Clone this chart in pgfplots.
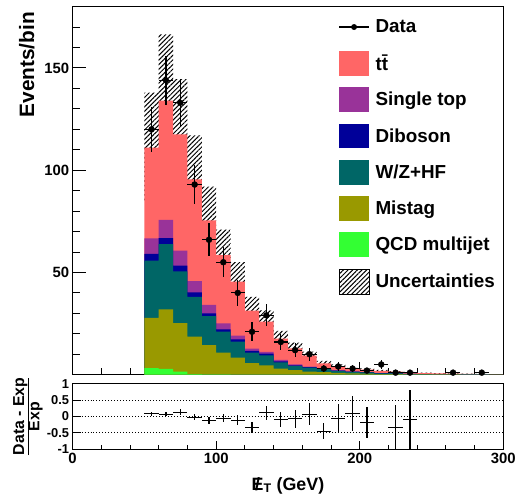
\documentclass[border=0pt]{standalone}
\usepackage{fontspec}
\setmainfont{Liberation Sans}
\usepackage{pgfplots}
\pgfplotsset{compat=1.18}
\usepackage{pgfplotstable}
\usepgfplotslibrary{fillbetween}
\usetikzlibrary{patterns.meta}

\definecolor{cTT}{RGB}{255,102,102}
\definecolor{cST}{RGB}{153,51,153}
\definecolor{cDB}{RGB}{0,0,153}
\definecolor{cWZ}{RGB}{0,102,102}
\definecolor{cMT}{RGB}{153,153,0}
\definecolor{cQCD}{RGB}{51,255,51}

% predicted yields per 10 GeV bin (left edge), components + uncertainty band
\pgfplotstableread{
x   qcd  mis   wz    dib   st    tt    lo     hi
50  3.2  24.6  28.0  3.3   7.6   44.3  84.5   138.0
60  2.8  29.2  31.9  2.9   8.9   58.3  102.5  166.5
70  1.5  23.7  25.3  2.9   7.3   56.8  90.5   144.5
80  0.3  18.3  19.4  2.3   5.5   49.7  74.0   117.0
90  0.2  14.2  14.2  1.4   4.2   41.3  59.5   92.0
100 0.1  10.7  10.2  1.2   2.9   33.4  46.0   71.0
110 0.0  8.4   7.8   1.1   1.8   26.4  36.0   55.0
120 0.0  5.7   5.1   0.8   1.1   18.6  24.5   38.0
130 0.0  4.6   4.9   0.8   0.8   14.9  20.5   31.5
140 0.0  3.0   3.0   0.5   0.7   10.4  13.8   21.4
150 0.0  2.2   2.1   0.3   0.4   7.9   10.1   15.7
160 0.0  1.5   2.0   0.2   0.3   5.3   7.3    11.3
170 0.0  1.2   1.5   0.2   0.2   2.4   4.3    6.7
180 0.0  0.9   1.0   0.1   0.2   2.0   3.3    5.1
190 0.0  0.6   0.8   0.1   0.1   1.1   2.1    3.3
200 0.0  0.5   0.6   0.1   0.1   1.2   1.9    3.1
210 0.0  0.3   0.4   0.05  0.05  1.1   1.5    2.3
220 0.0  0.3   0.3   0.05  0.05  0.8   1.2    1.8
230 0.0  0.2   0.2   0.0   0.0   0.7   0.85   1.35
240 0.0  0.15  0.15  0.0   0.0   0.5   0.6    1.0
250 0.0  0.1   0.1   0.0   0.0   0.4   0.45   0.75
260 0.0  0.1   0.1   0.0   0.0   0.3   0.4    0.6
270 0.0  0.05  0.05  0.0   0.0   0.3   0.3    0.5
280 0.0  0.05  0.05  0.0   0.0   0.2   0.2    0.4
290 0.0  0.0   0.0   0.0   0.0   0.2   0.15   0.25
300 0.0  0.0   0.0   0.0   0.0   0.2   0.15   0.25
}\mc

\pgfplotstableread{
x   y    ex  ey
55  120  5   11.0
65  144  5   12.0
75  133  5   11.5
85  93   5   9.6
95  66   5   8.1
105 55   5   7.4
115 40   5   6.3
125 21   5   4.6
135 29   5   5.4
145 16   5   4.0
155 12   5   3.5
165 10   5   3.2
175 3    5   1.7
185 4    5   2.0
195 3    5   1.7
205 2    5   1.4
215 5    5   2.2
225 1    5   1.0
235 1    5   1.0
265 1    5   1.0
285 1    5   1.0
}\dat

\pgfplotstableread{
x   r      ex  er
55  0.08   5   0.06
65  0.07   5   0.07
75  0.13   5   0.09
85  -0.02  5   0.10
95  -0.12  5   0.11
105 -0.06  5   0.12
115 -0.12  5   0.15
125 -0.33  5   0.16
135 0.11   5   0.21
145 -0.09  5   0.23
155 -0.07  5   0.27
165 0.07   5   0.33
175 -0.45  5   0.25
185 -0.05  5   0.43
195 0.10   5   0.53
205 -0.19  5   0.48
225 -0.33  5   0.67
235 -0.09  5   0.90
}\rat

\pgfplotsset{
  boxleg/.style={legend image code/.code={
    \path[draw=none,fill=none] (0bp,-12.5bp) rectangle (30bp,12.5bp);
    \path[fill=#1,draw=none] (0bp,-12.5bp) rectangle (30bp,12.5bp);}},
  hatchleg/.style={legend image code/.code={
    \path[draw=none,fill=none] (0bp,-12.5bp) rectangle (30bp,12.5bp);
    \path[pattern={Lines[angle=45,distance=3.3bp,line width=1bp]}, pattern color=black, draw=none] (0bp,-12.5bp) rectangle (30bp,12.5bp);
    \draw[black,line width=0.8bp,fill=none] (0bp,-12.5bp) rectangle (30bp,12.5bp);}},
  dataleg/.style={legend image code/.code={
    \path[draw=none,fill=none] (0bp,-12.5bp) rectangle (30bp,12.5bp);
    \draw[black,line width=1.2bp] (0bp,0bp) -- (30bp,0bp);
    \fill[black,draw=none] (15bp,0bp) circle (3bp);}},
  hatch/.style={pattern={Lines[angle=45,distance=3.3bp,line width=1bp]}, pattern color=black},
}

\begin{document}
\begin{tikzpicture}
\begin{axis}[
  name=top,
  scale only axis,
  width=433bp, height=370bp,
  xmin=0, xmax=300, ymin=0, ymax=180,
  xtick={0,100,200,300}, xticklabels={},
  minor xtick={20,40,...,280},
  ytick={50,100,150}, yticklabels={50,100,150},
  minor ytick={10,20,...,170},
  tick pos=left,
  major tick length=13bp, minor tick length=7bp,
  axis line style={line width=1bp},
  every tick/.style={black, line width=1bp},
  tick label style={font=\fontsize{15}{18}\selectfont\bfseries},
  ylabel={Events/bin},
  ylabel style={font=\fontsize{21}{24}\selectfont\bfseries, at={(axis description cs:-0.088,0.986)}, anchor=south east, inner sep=0pt},
  legend style={draw=none, fill=none, at={(axis description cs:0.617,0.979)}, anchor=north west,
    font=\fontsize{19}{22}\selectfont\bfseries, row sep=11.5bp, column sep=6bp, inner sep=0pt, nodes={inner sep=0pt}},
  legend cell align=left,
]
\addplot[const plot, fill=cTT, draw=none, forget plot] table[x=x, y expr=\thisrow{qcd}+\thisrow{mis}+\thisrow{wz}+\thisrow{dib}+\thisrow{st}+\thisrow{tt}] {\mc} \closedcycle;
\addplot[const plot, fill=cST, draw=none, forget plot] table[x=x, y expr=\thisrow{qcd}+\thisrow{mis}+\thisrow{wz}+\thisrow{dib}+\thisrow{st}] {\mc} \closedcycle;
\addplot[const plot, fill=cDB, draw=none, forget plot] table[x=x, y expr=\thisrow{qcd}+\thisrow{mis}+\thisrow{wz}+\thisrow{dib}] {\mc} \closedcycle;
\addplot[const plot, fill=cWZ, draw=none, forget plot] table[x=x, y expr=\thisrow{qcd}+\thisrow{mis}+\thisrow{wz}] {\mc} \closedcycle;
\addplot[const plot, fill=cMT, draw=none, forget plot] table[x=x, y expr=\thisrow{qcd}+\thisrow{mis}] {\mc} \closedcycle;
\addplot[const plot, fill=cQCD, draw=none, forget plot] table[x=x, y=qcd] {\mc} \closedcycle;

\addplot[const plot, draw=none, name path=lo, forget plot] table[x=x, y=lo] {\mc};
\addplot[const plot, draw=none, name path=hi, forget plot] table[x=x, y=hi] {\mc};
\addplot[hatch, draw=none, forget plot] fill between[of=hi and lo];

\addplot[only marks, mark=*, mark size=3bp, black, forget plot,
  error bars/.cd, x dir=both, x explicit, y dir=both, y explicit,
  error mark=none, error bar style={line width=1.2bp, black}]
  table[x=x, y=y, x error=ex, y error=ey] {\dat};

\addlegendimage{dataleg}\addlegendentry{Data}
\addlegendimage{boxleg=cTT}\addlegendentry{t\={t}}
\addlegendimage{boxleg=cST}\addlegendentry{Single top}
\addlegendimage{boxleg=cDB}\addlegendentry{Diboson}
\addlegendimage{boxleg=cWZ}\addlegendentry{W/Z+HF}
\addlegendimage{boxleg=cMT}\addlegendentry{Mistag}
\addlegendimage{boxleg=cQCD}\addlegendentry{QCD multijet}
\addlegendimage{hatchleg}\addlegendentry{Uncertainties}
\end{axis}

\begin{axis}[
  name=rat,
  at={(top.south west)}, yshift=-9bp, anchor=north west,
  scale only axis,
  width=433bp, height=66bp,
  xmin=0, xmax=300, ymin=-1, ymax=1,
  xtick={0,100,200,300}, xticklabels={0,100,200,300},
  minor xtick={20,40,...,280},
  ytick={-1,-0.5,0,0.5,1}, yticklabels={-1,-0.5,0,0.5,1},
  tick pos=left,
  major tick length=8bp, minor tick length=4bp,
  axis line style={line width=1bp},
  every tick/.style={black, line width=1bp},
  ymajorgrids,
  grid style={black, line width=0.8bp, dash pattern=on 1bp off 2bp},
  xticklabel style={font=\fontsize{15}{18}\selectfont\bfseries},
  yticklabel style={font=\fontsize{13}{16}\selectfont\bfseries},
  xlabel={\rlap{\hspace{0.19em}/}E\textsubscript{T} (GeV)},
  xlabel style={font=\fontsize{18}{21}\selectfont\bfseries, yshift=-7bp},
  ylabel={$\frac{\mbox{Data - Exp}}{\mbox{Exp}}$},
  ylabel style={font=\fontsize{16}{19}\selectfont\bfseries, at={(axis description cs:-0.069,0.5)}, anchor=south, inner sep=0pt},
]
\addplot[only marks, mark=*, mark size=0bp, black,
  error bars/.cd, x dir=both, x explicit, y dir=both, y explicit,
  error mark=none, error bar style={line width=1.2bp, black}]
  table[x=x, y=r, x error=ex, y error=er] {\rat};
\end{axis}
% page frame: 519 x 500
\path (top.north west) ++(-73bp,6.7bp) rectangle ++(519bp,-500bp);
\end{tikzpicture}
\end{document}
